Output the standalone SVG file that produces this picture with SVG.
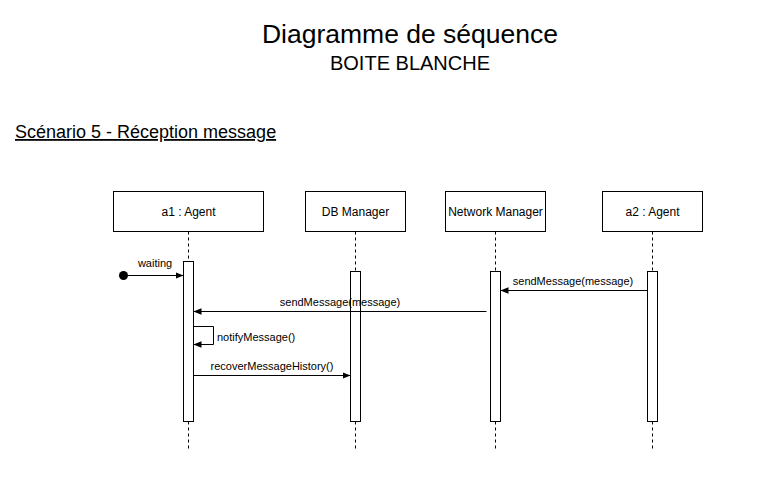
<svg xmlns="http://www.w3.org/2000/svg" width="777" height="478" viewBox="0 0 777 478">
<style>
text{font-family:"Liberation Sans",Arial,sans-serif;fill:#000}
.box{fill:#fff;stroke:#000;stroke-width:1}
.act{fill:#fff;stroke:#000;stroke-width:1}
.life{stroke:#000;stroke-width:1;stroke-dasharray:3 3;fill:none}
.msg{stroke:#000;stroke-width:1;fill:none;marker-end:url(#arr)}
.lbl{font-size:12px;text-anchor:middle}
.ml{font-size:11px}
</style>
<defs>
<marker id="arr" viewBox="0 0 10 10" refX="10" refY="5" markerWidth="8" markerHeight="8" markerUnits="userSpaceOnUse" orient="auto">
<path d="M0,1 L10,5 L0,9 Z" fill="#000"/>
</marker>
</defs>
<rect width="777" height="478" fill="#fff"/>
<text x="410" y="43" font-size="26.5" text-anchor="middle">Diagramme de séquence</text>
<text x="410" y="70" font-size="20" text-anchor="middle">BOITE BLANCHE</text>
<text x="15" y="138" font-size="18" text-decoration="underline">Scénario 5 - Réception message</text>

<g id="a1">
<rect class="box" x="113.5" y="191.5" width="150" height="40"/>
<text class="lbl" x="188.5" y="216">a1 : Agent</text>
<line class="life" x1="188.5" y1="231.5" x2="188.5" y2="261"/>
<line class="life" x1="188.5" y1="421.5" x2="188.5" y2="451"/>
<rect class="act" x="183.5" y="261.5" width="10" height="160"/>
</g>
<g id="db">
<rect class="box" x="305.5" y="191.5" width="100" height="40"/>
<text class="lbl" x="355.5" y="216">DB Manager</text>
<line class="life" x1="355.5" y1="231.5" x2="355.5" y2="271"/>
<line class="life" x1="355.5" y1="421.5" x2="355.5" y2="451"/>
<rect class="act" x="350.5" y="271.5" width="10" height="150"/>
</g>
<g id="nm">
<rect class="box" x="445.5" y="191.5" width="100" height="40"/>
<text class="lbl" x="495.5" y="216">Network Manager</text>
<line class="life" x1="495.5" y1="231.5" x2="495.5" y2="271"/>
<line class="life" x1="495.5" y1="421.5" x2="495.5" y2="451"/>
<rect class="act" x="490.5" y="271.5" width="10" height="150"/>
</g>
<g id="a2">
<rect class="box" x="602.5" y="191.5" width="100" height="40"/>
<text class="lbl" x="652.5" y="216">a2 : Agent</text>
<line class="life" x1="652.5" y1="231.5" x2="652.5" y2="271"/>
<line class="life" x1="652.5" y1="421.5" x2="652.5" y2="451"/>
<rect class="act" x="647.5" y="271.5" width="10" height="150"/>
</g>

<g id="connectors">
<circle cx="123.5" cy="275.5" r="4.5" fill="#000"/>
<line class="msg" x1="123.5" y1="275.5" x2="183.5" y2="275.5"/>
<text class="ml" x="155" y="267" text-anchor="middle">waiting</text>

<line class="msg" x1="647.5" y1="290.5" x2="500.5" y2="290.5"/>
<text class="ml" x="573" y="285" text-anchor="middle">sendMessage(message)</text>

<line class="msg" x1="486.5" y1="311.5" x2="193.5" y2="311.5"/>
<text class="ml" x="340" y="306" text-anchor="middle">sendMessage(message)</text>

<path class="msg" d="M193.5,326.5 H213.5 V344.5 H193.5"/>
<text class="ml" x="217" y="341">notifyMessage()</text>

<line class="msg" x1="193.5" y1="375.5" x2="350.5" y2="375.5"/>
<text class="ml" x="272" y="370" text-anchor="middle">recoverMessageHistory()</text>
</g>
</svg>
